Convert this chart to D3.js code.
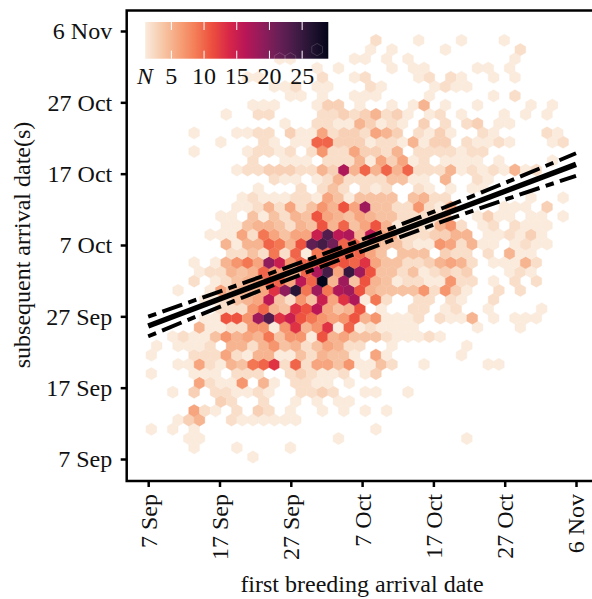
<!DOCTYPE html>
<html>
<head>
<meta charset="utf-8">
<script src="https://cdn.jsdelivr.net/npm/d3@7"></script>
<style>
  body { margin: 0; background: #fff; overflow: hidden; }
  text { font-family: "Liberation Serif", serif; fill: #111; }
</style>
</head>
<body>
<div id="chart"></div>
<script>
// days counted from 7 Sep
const tickDays = [0, 10, 20, 30, 40, 50, 60];
const tickLabels = ["7 Sep", "17 Sep", "27 Sep", "7 Oct", "17 Oct", "27 Oct", "6 Nov"];

// rocket palette, light to dark
const rocketColors = ["#faebdd", "#f7c9aa", "#f6a47c", "#f47d57", "#ed503e", "#d92847",
                      "#b91657", "#921c5b", "#6a1f56", "#451c47", "#221331", "#03051a"];
const legendTicks = [5, 10, 15, 20, 25];
const countRange = [1, 29];

// hex bin size in days
const binDayX = 1.5;
const binDayY = 1.298;
const binOriginX = 14.69;
const binOriginY = 0.28;

// one line per bin row, bottom to top: half-column, count, half-column, count...
const hexRows = [
  [0,1],
  [-11,1,-3,1,7,1],
  [-12,1,-10,1,16,1,40,1],
  [-19,1,-15,1,-11,1,23,1],
  [-14,1,-12,3,-10,5,-4,2,-2,1,0,1,2,1,4,1,6,1,8,1],
  [-11,6,-9,2,-7,1,-3,2,1,3,3,2,7,1,13,1,17,1,21,1,25,1],
  [-6,3,-4,2,2,2,8,1,12,1,16,1,18,1],
  [-15,1,-11,3,-7,2,-5,2,-3,1,-1,1,1,2,3,1,9,2,11,2,13,3,15,2,21,1,23,1,29,1],
  [-10,6,-8,2,-6,1,-4,1,-2,7,2,5,4,1,8,2,10,2,12,1,14,1,18,1],
  [-19,1,-11,1,-9,1,-7,1,-3,2,-1,2,1,2,7,2,9,3,11,2,13,1,15,1,17,2,21,1,23,3],
  [-14,1,-12,1,-10,6,-8,2,-6,1,-4,5,-2,4,0,9,2,10,4,13,6,2,8,10,10,2,12,6,14,6,16,4,18,7,20,1,22,1,24,4,26,2,32,1,44,1,46,1],
  [-19,1,-11,2,-9,2,-7,2,-5,6,-3,2,-1,1,1,5,3,5,5,1,7,1,9,4,11,2,13,5,15,4,17,4,19,1,23,6,25,1,39,1],
  [-18,1,-14,1,-12,1,-10,1,-8,2,-4,5,-2,5,0,2,2,5,4,7,6,4,8,5,10,2,12,4,14,6,16,5,18,2,20,2,26,1,40,1],
  [-15,1,-13,2,-11,1,-9,1,-7,4,-5,7,-3,5,-1,6,1,5,3,9,5,4,7,7,9,7,11,1,13,11,15,5,17,6,19,4,21,4,23,4,25,2,27,1,29,1,31,1,33,2,35,1],
  [-10,5,-8,1,-6,1,-4,2,-2,2,0,7,2,7,4,1,6,7,8,13,10,5,12,7,14,13,16,1,18,10,20,1,22,2,24,1,26,1,28,1,30,1,42,1,50,1],
  [-9,1,-7,1,-5,11,-3,11,-1,7,1,18,3,23,5,13,7,15,9,11,11,9,13,7,15,6,17,7,19,11,21,5,23,7,25,1,27,1,29,1,31,2,35,2,37,1,39,1,41,5,45,1,49,1,51,1,53,1],
  [-6,2,-4,2,-2,2,0,7,2,10,4,5,6,4,8,13,10,11,12,16,14,6,16,4,18,5,20,11,24,1,30,2,32,2,36,1,38,2,44,1,54,1],
  [-9,1,-7,1,-5,2,-3,4,-1,5,1,6,3,16,5,4,7,2,9,7,11,4,13,15,15,6,17,13,19,17,21,1,23,9,25,2,31,2,33,2,37,2,39,1,45,2],
  [-14,1,-8,1,-6,6,-4,4,-2,5,0,5,2,6,4,13,6,19,8,26,10,9,12,18,14,9,16,17,18,18,20,11,22,5,24,4,26,4,28,4,30,4,32,7,34,2,36,7,38,3,40,1,46,2,50,2],
  [-11,2,-7,1,-5,2,-3,4,-1,5,1,6,3,10,5,10,7,6,9,16,11,10,13,29,15,5,17,18,19,4,21,11,23,5,25,4,27,1,29,2,31,2,33,1,35,1,37,7,39,2,41,2,45,1,49,2,53,2],
  [-10,1,-8,2,-6,2,-4,5,-2,4,0,5,2,10,4,7,6,7,8,5,10,10,12,17,14,24,16,6,18,25,20,18,22,11,24,4,26,4,28,2,30,4,32,1,34,2,36,3,38,2,40,3,48,1,50,2,52,1],
  [-11,1,-7,1,-5,5,-3,7,-1,9,1,6,3,19,5,15,7,7,9,10,11,10,13,11,15,10,17,11,19,10,21,13,23,6,25,4,27,4,29,2,31,2,33,3,35,5,37,6,39,5,41,2,45,1,47,1,49,1,51,5,53,2],
  [-4,2,-2,2,0,4,2,2,4,9,6,2,8,10,10,1,12,9,14,10,16,10,18,10,20,10,22,6,24,4,28,4,30,4,32,4,36,3,38,2,40,2,44,2,48,5,50,1,52,1],
  [-5,5,-3,1,-1,5,1,5,3,10,5,9,7,5,9,11,11,22,13,24,15,21,17,10,19,10,21,5,23,5,25,4,27,4,29,2,31,1,33,1,35,7,37,6,39,2,41,5,43,1,45,1,49,1,51,2,53,1,55,1],
  [-8,1,-6,1,-4,1,-2,6,0,2,2,9,4,6,6,4,8,6,10,6,12,15,14,23,16,16,18,17,20,5,22,16,24,6,26,6,28,2,30,2,32,2,34,3,36,3,38,5,40,5,44,1,46,1,48,2,50,1,52,3,54,1],
  [-5,1,-3,1,-1,4,1,5,3,5,5,4,7,2,9,5,11,4,13,11,15,5,17,10,19,4,21,6,23,11,25,5,27,1,29,2,31,2,33,1,35,5,37,7,39,2,43,1,45,2,49,2,51,1,53,1,55,1],
  [-6,1,-4,1,0,4,2,1,4,4,6,2,8,5,10,4,12,11,14,6,16,5,18,4,20,6,22,5,24,4,26,4,28,2,30,2,32,2,34,2,36,5,42,1,44,3,46,1,48,1,52,1,54,1,58,1],
  [-3,1,-1,1,1,2,3,5,5,2,7,6,9,2,11,4,13,7,15,5,17,11,19,6,21,18,23,4,25,4,27,2,29,2,31,7,33,2,35,1,37,6,47,1,49,1,51,1,55,3],
  [-2,1,0,2,2,1,4,1,6,1,8,2,10,2,12,1,14,6,16,4,18,1,20,4,22,4,24,4,26,4,30,4,32,5,34,2,36,2,52,1,58,1],
  [1,1,9,2,13,2,15,4,17,2,21,2,23,1,25,2,31,2,33,1,37,1,41,1,43,1],
  [4,2,6,1,8,1,12,1,14,2,16,5,18,2,20,2,22,2,24,2,26,4,28,4,30,1,32,1,36,5,42,2,44,1],
  [-3,1,-1,2,1,2,3,3,5,3,7,3,9,2,11,2,13,5,15,3,17,17,19,5,21,10,23,5,25,10,27,5,29,10,31,2,33,2,35,2,37,5,39,1,41,2,43,1,45,2,47,1,49,5,51,1,53,2],
  [0,2,6,1,8,1,10,1,14,2,16,2,18,2,20,5,22,1,24,6,26,3,28,6,30,1,32,2,36,1,38,1,40,1,42,1,46,1,56,1],
  [-11,1,-1,1,1,2,3,2,5,1,7,2,11,2,13,7,15,2,17,2,19,6,21,3,23,3,25,2,27,5,31,2,33,2,35,2,37,2,39,1,41,2,43,2],
  [-6,1,2,2,4,1,8,1,10,1,12,10,14,10,16,3,18,3,20,3,22,1,24,2,26,2,28,1,30,5,32,1,34,3,36,3,40,2,42,1,44,1,46,2,48,1,56,1,58,2],
  [-11,1,-3,1,-1,1,1,2,3,2,7,3,9,1,11,1,13,6,15,2,17,3,19,3,21,2,23,6,25,5,27,3,31,2,33,1,35,3,37,1,43,2,45,1,55,2,57,1],
  [6,1,12,2,14,2,16,1,18,1,20,5,22,3,24,1,26,2,28,1,32,3,36,2,40,2,42,3,46,1,48,1],
  [-5,1,1,2,3,2,13,2,15,2,17,3,19,2,21,3,23,5,25,2,27,3,29,1,33,1,35,2,39,1,47,1,51,1,55,1],
  [0,1,2,1,4,1,12,1,14,3,16,3,20,1,26,1,30,1,32,5,36,1,42,1,52,1,56,1],
  [7,1,9,1,13,1,19,1,21,1,23,1,33,1,45,1,49,2],
  [4,1,6,1,8,2,12,1,14,1,22,2,24,1,34,1,36,2,38,1,40,1],
  [-1,1,1,1,13,2,19,1,21,2,31,1,33,2,37,2,39,1,45,1,49,1],
  [12,1,16,1,26,1,30,1,32,1,42,1,44,1,48,1],
  [5,1,7,1,19,1,21,1,25,1,29,1,49,1],
  [12,1,22,1,26,1,36,1,50,2],
  [23,2,31,1,39,1,47,1]
];

// regression line and its confidence band
const fitDays = [0, 60];
const fitValues = [18.65, 41.3];
const bandDays = [0, 14, 28, 44, 60];
const bandUpper = [19.95, 24.9, 30.02, 36.25, 42.86];
const bandLower = [17.2, 22.94, 28.37, 34.26, 39.7];

const width = 592;
const height = 599;
const svg = d3.select("#chart").append("svg")
    .attr("width", width)
    .attr("height", height)
    .style("display", "block");

const x = d3.scaleLinear().domain([0, 60]).range([148.2, 576]);
const y = d3.scaleLinear().domain([0, 60]).range([459, 31]);

const colorScale = d3.scaleLinear()
    .domain(d3.quantize(d3.interpolateNumber(countRange[0], countRange[1]), rocketColors.length))
    .range(rocketColors);

// flatten the rows into bins
const bins = [];
hexRows.forEach((fila, r) => {
    for (let i = 0; i < fila.length; i += 2) {
        bins.push({
            dayX: binOriginX + fila[i] * binDayX / 2,
            dayY: binOriginY + r * binDayY,
            n: fila[i + 1]
        });
    }
});

function hexPath(d) {
    const dx = binDayX / 2;
    const dy = binDayY * 2 / 3;
    const pts = [[0, dy], [dx, dy / 2], [dx, -dy / 2], [0, -dy], [-dx, -dy / 2], [-dx, dy / 2]];
    return "M" + pts.map(p => [x(d.dayX + p[0]), y(d.dayY + p[1])].join(",")).join("L") + "Z";
}

// thin stroke in the same colour closes the seams between cells
svg.append("g").selectAll("path").data(bins).enter().append("path")
    .attr("d", hexPath)
    .attr("fill", d => colorScale(d.n))
    .attr("stroke", d => colorScale(d.n))
    .attr("stroke-width", 0.4);

// fit and band
const lineaBanda = d3.line().x(d => x(d[0])).y(d => y(d[1])).curve(d3.curveNatural);
const lineaFit = d3.line().x(d => x(d[0])).y(d => y(d[1]));

[bandUpper, bandLower].forEach(banda => {
    svg.append("path")
        .attr("d", lineaBanda(bandDays.map((d, i) => [d, banda[i]])))
        .attr("fill", "none")
        .attr("stroke", "#000")
        .attr("stroke-width", 4)
        .attr("stroke-dasharray", "8.5 6.5 21 6.5");
});

svg.append("path")
    .attr("d", lineaFit(fitDays.map((d, i) => [d, fitValues[i]])))
    .attr("fill", "none")
    .attr("stroke", "#000")
    .attr("stroke-width", 5.5);

// axes
const xAxis = d3.axisBottom(x).tickValues(tickDays).tickFormat((d, i) => tickLabels[i]).tickSize(6);
const yAxis = d3.axisLeft(y).tickValues(tickDays).tickFormat((d, i) => tickLabels[i]).tickSize(6);

const gx = svg.append("g").attr("transform", "translate(0,481)").call(xAxis);
const gy = svg.append("g").attr("transform", "translate(126.7,0)").call(yAxis);

[gx, gy].forEach(g => {
    g.select(".domain").remove();
    g.selectAll("line").attr("stroke", "#000").attr("stroke-width", 2.5);
    g.selectAll("text").style("font-size", "24px");
});

gx.selectAll("text")
    .attr("text-anchor", "end")
    .attr("dy", "0.33em")
    .attr("x", 0)
    .attr("y", 0)
    .attr("transform", "translate(0,13) rotate(-90)");

gy.selectAll("text")
    .attr("x", -14.5)
    .attr("dy", "0.33em");

// spines
svg.append("path")
    .attr("d", `M${width},10.5H126.7V481H${width}`)
    .attr("fill", "none")
    .attr("stroke", "#000")
    .attr("stroke-width", 2.5);

// axis titles
svg.append("text")
    .attr("x", 362)
    .attr("y", 592)
    .attr("text-anchor", "middle")
    .style("font-size", "24px")
    .text("first breeding arrival date");

svg.append("text")
    .attr("transform", "translate(30,245) rotate(-90)")
    .attr("text-anchor", "middle")
    .style("font-size", "24px")
    .text("subsequent arrival date(s)");

// legend colour bar
const legendX = d3.scaleLinear().domain(countRange).range([145.2, 328.3]);
const legendTop = 22;
const legendBottom = 58.7;

const defs = svg.append("defs");
const gradiente = defs.append("linearGradient").attr("id", "rocket");
rocketColors.forEach((c, i) => {
    gradiente.append("stop")
        .attr("offset", i / (rocketColors.length - 1))
        .attr("stop-color", c);
});

svg.append("rect")
    .attr("x", legendX(countRange[0]))
    .attr("y", legendTop)
    .attr("width", legendX(countRange[1]) - legendX(countRange[0]))
    .attr("height", legendBottom - legendTop)
    .attr("fill", "url(#rocket)");

// bins hidden under the bar still show faintly
svg.append("g").selectAll("path")
    .data(bins.filter(d => y(d.dayY) < legendBottom + 1 && x(d.dayX) < legendX(countRange[1])))
    .enter().append("path")
    .attr("d", hexPath)
    .attr("fill", "none")
    .attr("stroke", "#fff")
    .attr("stroke-opacity", 0.2)
    .attr("stroke-width", 0.8);

legendTicks.forEach(v => {
    [[legendTop, legendTop + 8], [legendBottom - 8, legendBottom]].forEach(p => {
        svg.append("line")
            .attr("x1", legendX(v)).attr("x2", legendX(v))
            .attr("y1", p[0]).attr("y2", p[1])
            .attr("stroke", "#fff")
            .attr("stroke-width", 1);
    });
    svg.append("text")
        .attr("x", legendX(v))
        .attr("y", 84)
        .attr("text-anchor", "middle")
        .style("font-size", "24px")
        .text(v);
});

svg.append("text")
    .attr("x", 137)
    .attr("y", 84)
    .style("font-size", "24px")
    .style("font-style", "italic")
    .text("N");
</script>
</body>
</html>
